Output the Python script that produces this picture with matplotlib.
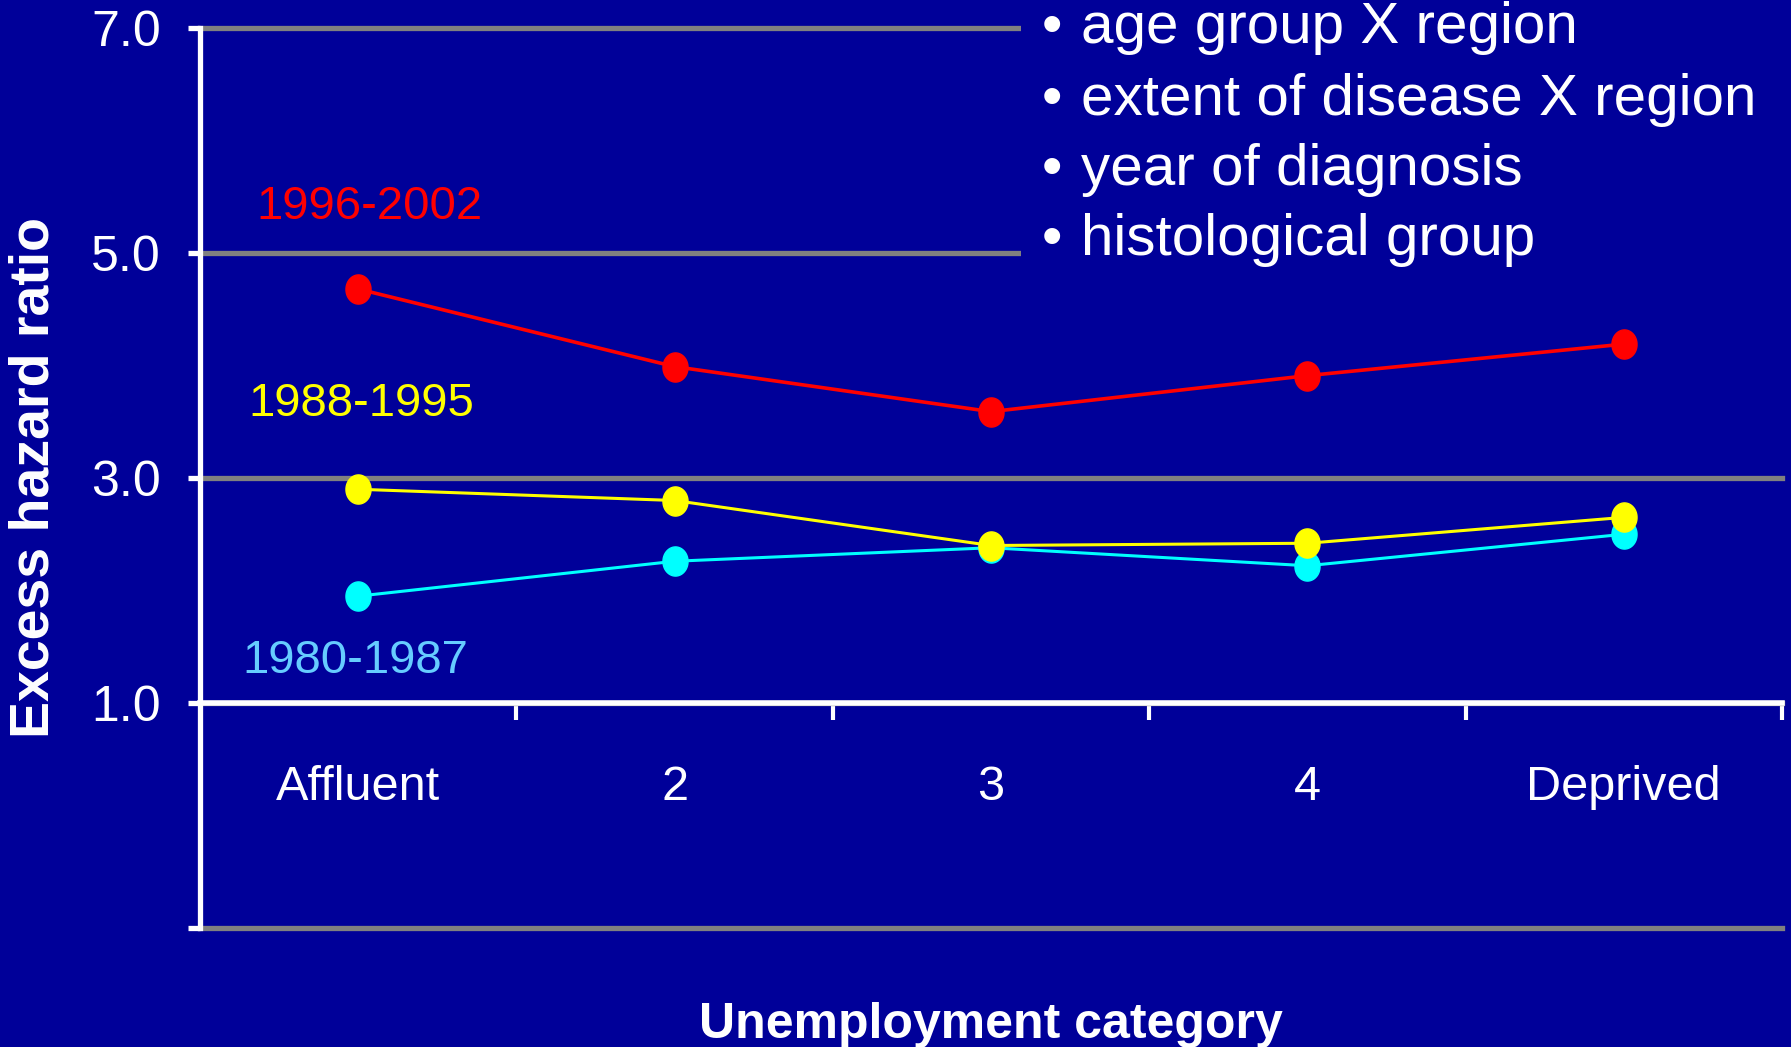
import numpy as np
import matplotlib
matplotlib.use("Agg")
import matplotlib.pyplot as plt
from matplotlib.patches import Rectangle

plt.rcParams['font.family'] = ['Liberation Sans', 'DejaVu Sans']

# ---- data ----
categories = ["Affluent", "2", "3", "4", "Deprived"]
period_labels = ["1996-2002", "1988-1995", "1980-1987"]
ehr_1996_2002 = [4.68, 3.99, 3.59, 3.91, 4.19]
ehr_1988_1995 = [2.90, 2.80, 2.40, 2.42, 2.65]
ehr_1980_1987 = [1.95, 2.26, 2.38, 2.22, 2.50]
y_ticks = [-1.0, 1.0, 3.0, 5.0, 7.0]
y_tick_labels = ["", "1.0", "3.0", "5.0", "7.0"]
notes = ["age group X region", "extent of disease X region",
         "year of diagnosis", "histological group"]

BG = "#000099"
W, H = 1791, 1047

fig = plt.figure(figsize=(W / 100, H / 100), dpi=100)
fig.patch.set_facecolor(BG)
ax = fig.add_axes([200 / W, 1 - 928 / H, 1582 / W, 900 / H])
ax.set_facecolor(BG)
ax.set_xlim(0, len(categories))
ax.set_ylim(-1, 7)

# ellipse marker (taller than wide)
t = np.linspace(0, 2 * np.pi, 60)
ell = list(zip(0.86 * np.cos(t), np.sin(t)))

x = np.arange(len(categories)) + 0.5
series = [
    (ehr_1996_2002, "#FF0000", 2.6),
    (ehr_1988_1995, "#FFFF00", 2.2),
    (ehr_1980_1987, "#00FFFF", 2.2),
]
for vals, col, lw in series[::-1]:
    ax.plot(x, vals, color=col, linewidth=lw, marker=ell, markersize=21,
            markerfacecolor=col, markeredgecolor=col, zorder=3, clip_on=False)

# series labels
lab_cols = ["#FF0000", "#FFFF00", "#66CCFF"]
lab_pos = [(0.535, 5.30), (0.51, 3.555), (0.49, 1.267)]
for lab, col, (lx, ly) in zip(period_labels, lab_cols, lab_pos):
    ax.text(lx, ly, lab, color=col, fontsize=34, ha="center", va="baseline", zorder=4)

# spines
for s in ["top", "right"]:
    ax.spines[s].set_visible(False)
ax.spines["left"].set_color("white")
ax.spines["left"].set_linewidth(3.8)
ax.spines["bottom"].set_position(("data", 1.0))
ax.spines["bottom"].set_color("white")
ax.spines["bottom"].set_linewidth(4.0)

# y axis
ax.set_yticks(y_ticks)
ax.set_yticklabels(y_tick_labels)
ax.tick_params(axis="y", length=9, width=3.8, color="white", pad=19,
               labelsize=36, labelcolor="white", direction="out")
ax.yaxis.grid(True, color="#808080", linewidth=3.8)
ax.set_axisbelow(True)
for gl in ax.get_ygridlines():
    gl.set_clip_on(False)

# x axis
ax.set_xticks(np.arange(1, len(categories) + 1))
ax.set_xticklabels([])
ax.set_xticks(x, minor=True)
ax.set_xticklabels(categories, minor=True)
ax.tick_params(axis="x", which="major", length=12, width=3.0, color="white", direction="out")
ax.tick_params(axis="x", which="minor", length=0, pad=45, labelsize=35, labelcolor="white")

# axis titles
fig.text(991 / W, 1 - 1038 / H, "Unemployment category", color="white",
         fontsize=36, fontweight="bold", ha="center", va="baseline")
fig.text(49 / W, 1 - 477 / H, "Excess hazard ratio", color="white", fontsize=40,
         fontweight="bold", rotation=90, rotation_mode="anchor",
         ha="center", va="baseline")

# text box with bullet notes (covers gridlines)
fig.patches.append(Rectangle((1021 / W, 1 - 290 / H), 1 - 1021 / W, 290 / H,
                             transform=fig.transFigure, facecolor=BG,
                             edgecolor="none", zorder=1))
baselines = [43, 115, 185, 255]
for note, b in zip(notes, baselines):
    fig.text(1042 / W, 1 - b / H, "\u2022", color="white", fontsize=42,
             va="baseline", ha="left", zorder=2)
    fig.text(1081 / W, 1 - b / H, note, color="white", fontsize=42,
             va="baseline", ha="left", zorder=2)

fig.savefig("out.png", dpi=100, facecolor=BG)
